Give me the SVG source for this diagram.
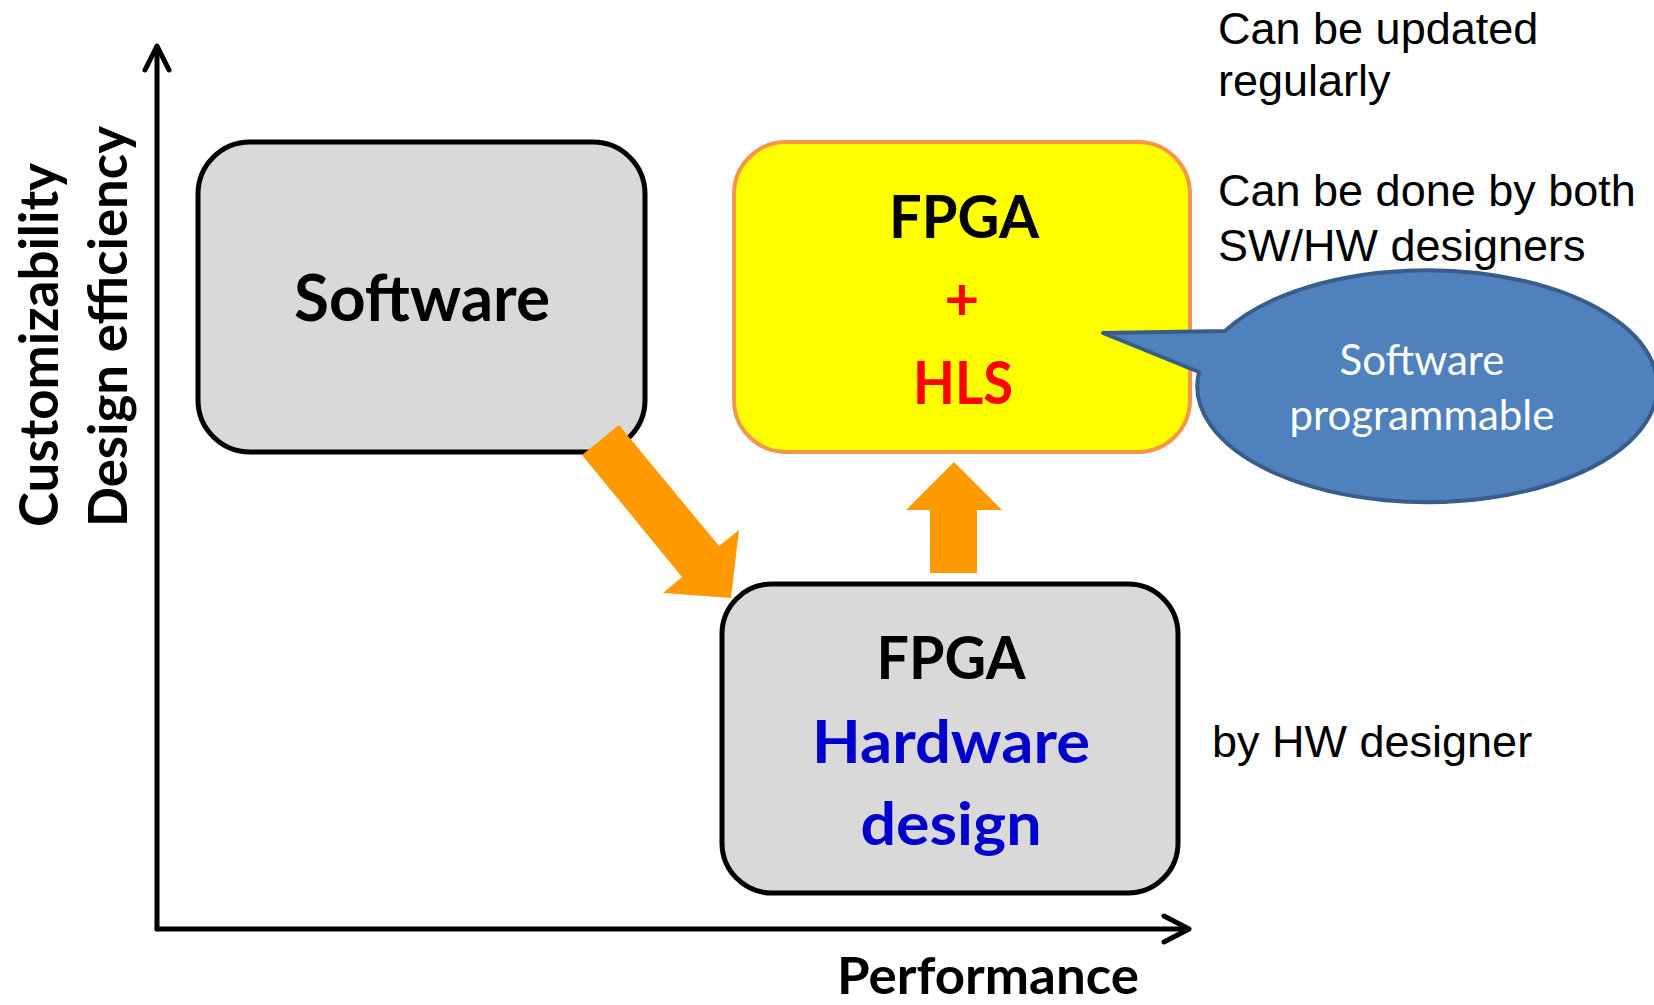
<svg xmlns="http://www.w3.org/2000/svg" width="1654" height="1005" viewBox="0 0 1654 1005">
  <defs>
    <style>
      .lbl { font-family: Lato, "Noto Sans", "Liberation Sans", sans-serif; font-weight: bold; text-anchor: middle; }
      .axis-lbl { font-family: Lato, "Noto Sans", "Liberation Sans", sans-serif; font-weight: bold; font-size: 53px; }
      .note { font-family: "Liberation Sans", Arial, sans-serif; font-size: 45px; fill: #000; }
      .box-gray { fill: #d9d9d9; stroke: #000; stroke-width: 5; }
      .box-yellow { fill: #ffff00; stroke: #f79646; stroke-width: 4; }
      .big-arrow { fill: #ff9900; stroke: none; }
      .axis { fill: none; stroke: #000; stroke-width: 5; stroke-linecap: round; stroke-linejoin: round; }
      .bubble { fill: #4f81bd; stroke: #385d8a; stroke-width: 4; stroke-linejoin: round; }
      .bubble-text { font-family: Lato, "Noto Sans", "Liberation Sans", sans-serif; font-size: 42px; fill: #ffffff; text-anchor: middle; }
    </style>
  </defs>
  <rect x="0" y="0" width="1654" height="1005" fill="#ffffff"/>

  <!-- axes -->
  <g id="axes">
    <polyline class="axis" points="157,929 157,47"/>
    <polyline class="axis" points="145,70 157,46 169,70"/>
    <polyline class="axis" points="157,929 1188,929"/>
    <polyline class="axis" points="1164,916 1189,929 1164,942"/>
    <text class="axis-lbl" transform="translate(58,527) rotate(-90)" textLength="364" lengthAdjust="spacingAndGlyphs">Customizability</text>
    <text class="axis-lbl" transform="translate(127,527) rotate(-90)" textLength="401" lengthAdjust="spacingAndGlyphs">Design efficiency</text>
    <text class="lbl" x="988" y="994" font-size="52" textLength="302" lengthAdjust="spacingAndGlyphs">Performance</text>
  </g>

  <!-- nodes -->
  <g id="software">
    <rect class="box-gray" x="198" y="142" width="447" height="310" rx="52" ry="52"/>
    <text class="lbl" x="422" y="321" font-size="65" textLength="256" lengthAdjust="spacingAndGlyphs">Software</text>
  </g>

  <g id="fpga-hls">
    <rect class="box-yellow" x="734" y="142" width="456" height="310" rx="52" ry="52"/>
    <text class="lbl" x="964" y="238" font-size="60" textLength="150" lengthAdjust="spacingAndGlyphs">FPGA</text>
    <text class="lbl" x="962" y="320" font-size="60" fill="#ff0000">+</text>
    <text class="lbl" x="963" y="404" font-size="60" fill="#ff0000" textLength="100" lengthAdjust="spacingAndGlyphs">HLS</text>
  </g>

  <g id="fpga-hw">
    <rect class="box-gray" x="722" y="584" width="456" height="309" rx="50" ry="50"/>
    <text class="lbl" x="951" y="679" font-size="60" textLength="149" lengthAdjust="spacingAndGlyphs">FPGA</text>
    <text class="lbl" x="951" y="763" font-size="60" fill="#0000cc" textLength="278" lengthAdjust="spacingAndGlyphs">Hardware</text>
    <text class="lbl" x="951" y="845" font-size="60" fill="#0000cc" textLength="181" lengthAdjust="spacingAndGlyphs">design</text>
  </g>

  <!-- connectors -->
  <g id="connectors">
    <polygon class="big-arrow" points="619,425 719,546 739,530 731,598 663,593 682,577 582,455"/>
    <polygon class="big-arrow" points="954,462 1002,510 977,510 977,573 930,573 930,510 906,510"/>
  </g>

  <g id="callout">
    <path class="bubble" d="M1225,331 L1103,333 L1199,372 A230,116 0 1 0 1225,331 Z"/>
    <text class="bubble-text" x="1422" y="375">Software</text>
    <text class="bubble-text" x="1422" y="430">programmable</text>
  </g>

  <!-- notes -->
  <g id="notes">
    <text class="note" x="1218" y="44">Can be updated</text>
    <text class="note" x="1218" y="96">regularly</text>
    <text class="note" x="1218" y="206">Can be done by both</text>
    <text class="note" x="1218" y="261">SW/HW designers</text>
    <text class="note" x="1212" y="757">by HW designer</text>
  </g>
</svg>
